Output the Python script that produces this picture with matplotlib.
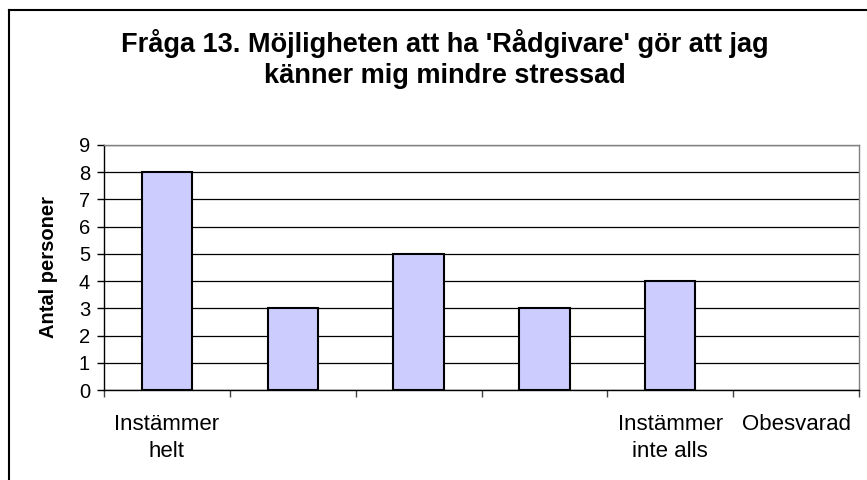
import numpy as np
import matplotlib.pyplot as plt
from matplotlib.lines import Line2D

categories = ["Instämmer\nhelt", "", "", "", "Instämmer\ninte alls", "Obesvarad"]
values = [8, 3, 5, 3, 4, 0]
title_lines = ["Fråga 13. Möjligheten att ha 'Rådgivare' gör att jag",
               "känner mig mindre stressad"]

plt.rcParams['font.family'] = ['Liberation Sans', 'DejaVu Sans']

fig = plt.figure(figsize=(8.67, 4.8), dpi=100)
ax = fig.add_axes([104 / 867, 1 - 390 / 480, (859 - 104) / 867, (390 - 145) / 480])

x = np.arange(len(categories))
edges = ['black' if v > 0 else 'none' for v in values]
ax.bar(x, values, width=0.4, color='#CCCCFF', edgecolor=edges, linewidth=1.5, zorder=3)

ax.set_xlim(-0.5, len(categories) - 0.5)
ax.set_ylim(0, 9)
ax.set_yticks(range(0, 10))
ax.yaxis.grid(True, color='black', linewidth=0.9, zorder=0)

ax.set_xticks(x)
ax.set_xticklabels(categories, fontsize=16, linespacing=1.4)
ax.tick_params(axis='x', which='major', length=0, pad=17)
ax.set_xticks(np.arange(-0.5, len(categories), 1), minor=True)
ax.tick_params(axis='x', which='minor', length=5, direction='out', width=1, color='#444444')
ax.tick_params(axis='y', length=5, width=1, labelsize=14.5, pad=5)

for side in ['left', 'bottom']:
    ax.spines[side].set_color('black')
    ax.spines[side].set_linewidth(1)
for side in ['top', 'right']:
    ax.spines[side].set_color('#808080')
    ax.spines[side].set_linewidth(1)

ax.set_ylabel("Antal personer", fontsize=14.5, fontweight='bold', labelpad=15)

fig.text(445 / 867, 1 - 52 / 480, title_lines[0],
         ha='center', va='baseline', fontsize=19.5, fontweight='bold')
fig.text(445 / 867, 1 - 83 / 480, title_lines[1],
         ha='center', va='baseline', fontsize=19.5, fontweight='bold')

# outer chart border (left and top)
fig.add_artist(Line2D([9 / 867, 9 / 867], [0, 1 - 10 / 480], transform=fig.transFigure,
                      color='black', linewidth=1.5))
fig.add_artist(Line2D([9 / 867, 1], [1 - 10 / 480, 1 - 10 / 480], transform=fig.transFigure,
                      color='black', linewidth=1.5))

fig.savefig("out.png", dpi=100)
